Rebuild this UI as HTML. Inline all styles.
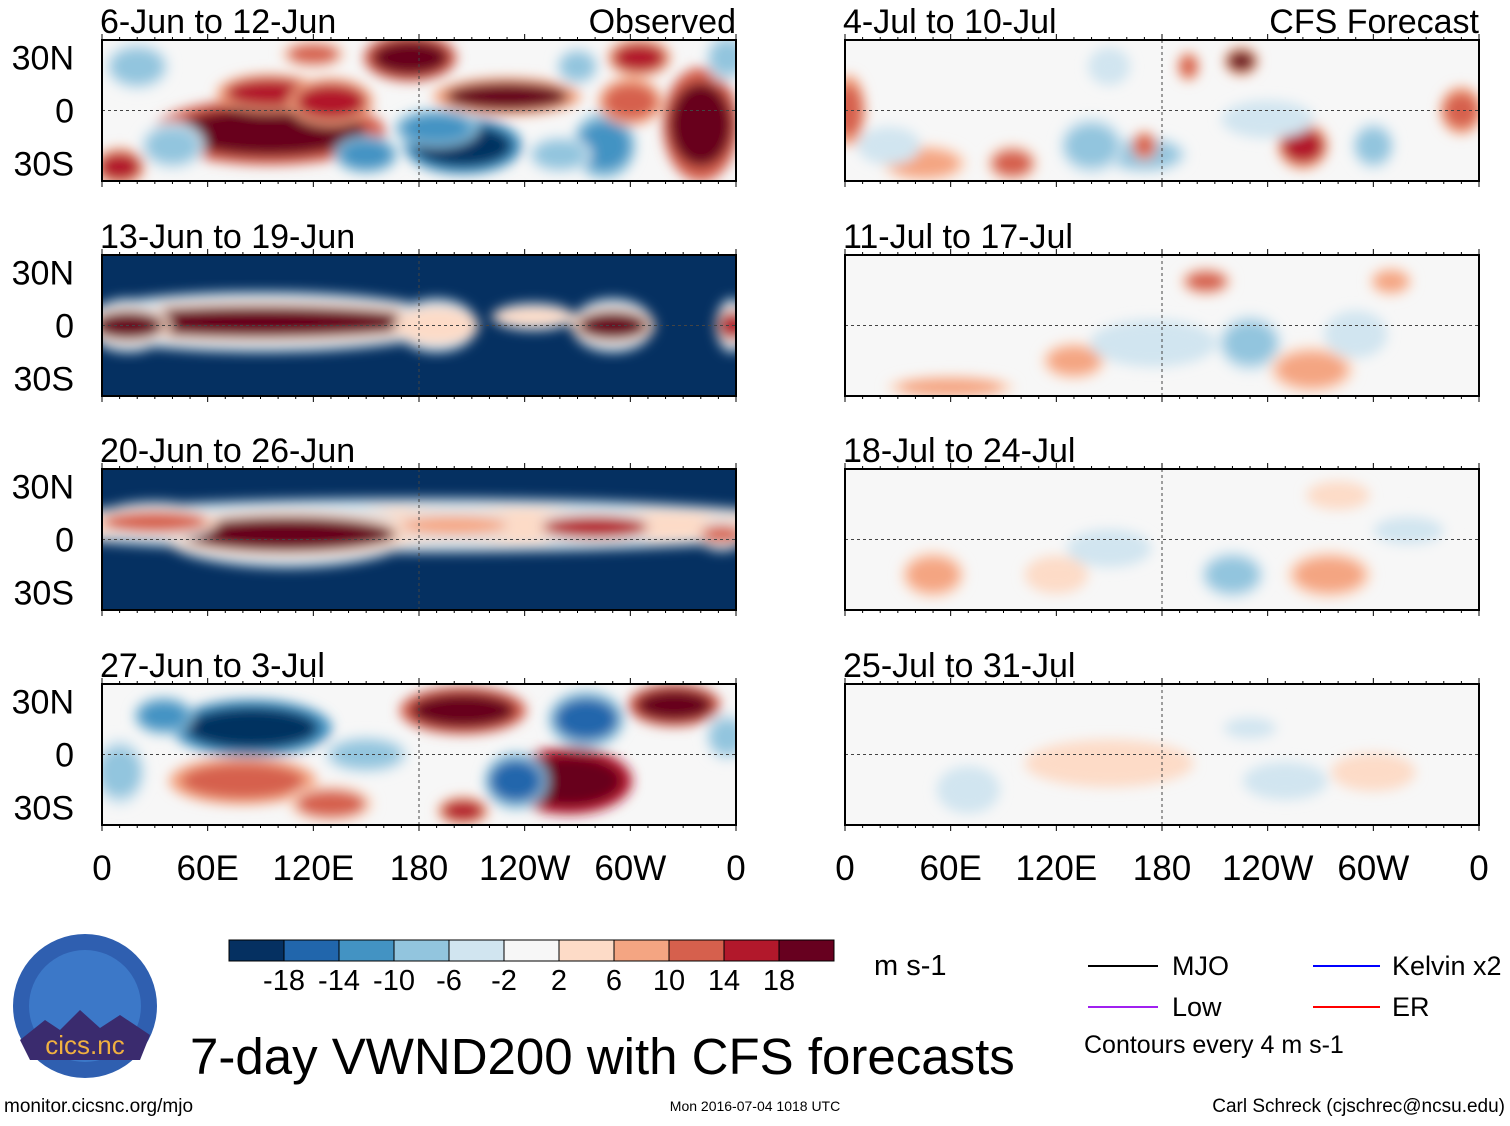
<!DOCTYPE html>
<html><head><meta charset="utf-8"><style>
body{margin:0;background:#fff;font-family:"Liberation Sans",sans-serif}
svg text{font-family:"Liberation Sans",sans-serif}
</style></head><body>
<svg id="fig" width="1510" height="1121" xmlns="http://www.w3.org/2000/svg">
<defs><filter id="bl" x="-20%" y="-20%" width="140%" height="140%"><feGaussianBlur stdDeviation="6"/></filter></defs>
<g id="panels"></g>
<g id="bottom"></g>
</svg>
<script>
const colors=["#053061","#2166ac","#4393c3","#92c5de","#d1e5f0","#f7f7f7","#fddbc7","#f4a582","#d6604d","#b2182b","#67001f"];
const cbarLabels=["-18","-14","-10","-6","-2","2","6","10","14","18"];
const xTickLabels=["0","60E","120E","180","120W","60W","0"];
const yTickLabels=["30N","0","30S"];
const yTickLats=[30,0,-30];
const panelTitles=["6-Jun to 12-Jun","13-Jun to 19-Jun","20-Jun to 26-Jun","27-Jun to 3-Jul","4-Jul to 10-Jul","11-Jul to 17-Jul","18-Jul to 24-Jul","25-Jul to 31-Jul"];
const panelBg=[0,-30,-30,0,0,0,0,0];
// blobs: [lon, lat, value, lonRadius, latRadius]
const blobs1=[[95,-12,24,55,14],[95,10,16,25,8],[130,5,14,20,10],[175,30,20,22,10],[340,-8,24,18,24],[230,8,18,35,8],[205,-20,-22,28,12],[190,-10,-12,20,8],[285,-20,-14,15,14],[150,-25,-12,15,8],[20,25,-10,15,10],[40,-20,-8,15,10],[300,5,12,15,10],[10,-32,14,12,8],[260,-25,-8,15,8],[120,32,10,15,6],[305,30,16,15,8],[270,25,-10,10,8],[355,30,-10,10,10]];
const blobs2=[[90,2,30,95,9],[15,0,18,20,8],[290,0,20,20,8],[358,0,14,8,8],[245,5,2,20,4],[190,0,4,20,8]];
const blobs3=[[180,8,2,200,8],[105,3,30,62,10],[30,10,10,30,6],[280,7,16,30,6],[352,3,12,12,5],[200,8,6,30,5]];
const blobs4=[[205,25,24,30,10],[265,-15,26,30,14],[85,15,-22,38,12],[235,-15,-18,15,12],[325,28,20,22,9],[275,20,-16,18,12],[80,-15,12,35,10],[205,-32,16,12,6],[150,0,-10,20,8],[10,-10,-10,12,14],[35,22,-12,14,8],[130,-28,10,20,8],[355,10,-8,10,10]];
const blobs5=[[170,-25,-8,20,8],[140,-20,-10,15,12],[170,-20,12,6,6],[260,-20,16,12,10],[95,-30,10,12,8],[225,28,18,8,6],[195,25,12,5,6],[240,-5,-5,22,8],[300,-20,-10,10,10],[2,0,12,8,15],[350,0,12,10,10],[45,-30,6,20,8],[150,25,-6,10,8],[25,-20,-4,15,8]];
const blobs6=[[230,-10,-8,15,12],[265,-25,8,20,10],[205,25,10,12,6],[60,-35,6,30,5],[130,-20,6,15,8],[175,-10,-4,30,10],[310,25,6,10,6],[290,-5,-4,15,10]];
const blobs7=[[220,-20,-8,15,10],[275,-20,8,20,10],[50,-20,6,15,10],[120,-20,4,15,8],[150,-5,-4,20,8],[320,5,-3,20,8],[280,25,5,15,6]];
const blobs8=[[70,-20,-4,15,10],[150,-5,4,40,10],[250,-15,-4,20,8],[300,-10,4,20,8],[230,15,-3,15,6]];
const allBlobs=[blobs1,blobs2,blobs3,blobs4,blobs5,blobs6,blobs7,blobs8];
const NS="http://www.w3.org/2000/svg";
function mk(t,a,p){const e=document.createElementNS(NS,t);for(const k in a)e.setAttribute(k,a[k]);p.appendChild(e);return e;}
function col(v){let i=Math.floor((v+22)/4);i=Math.max(0,Math.min(10,i));return colors[i];}
const W=634,H=141,colX=[102,845],rowY=[40,255,469,684];
const P=document.getElementById('panels');
for(let p=0;p<8;p++){
 const x0=colX[Math.floor(p/4)],y0=rowY[p%4];
 const xs=lon=>x0+lon*W/360, ys=lat=>y0+H/2-lat*(H/2)/40;
 const g=mk('g',{},P);
 
 
 const cp=mk('clipPath',{id:'c'+p},g);mk('rect',{x:x0,y:y0,width:W,height:H},cp);
 const inner=mk('g',{'clip-path':'url(#c'+p+')'},g);
 mk('rect',{x:x0,y:y0,width:W,height:H,fill:col(panelBg[p])},inner);
 const bg=mk('g',{filter:'url(#bl)'},inner);
 const dark=panelBg[p]<0;
 for(const b of allBlobs[p]){
  if(dark){
   const e0=mk('ellipse',{cx:xs(b[0]),cy:ys(b[1]),rx:b[3]*W/360*1.15,ry:b[4]*H/80*1.9,fill:col(-4)},bg);
   
   
  }
  const e1=mk('ellipse',{cx:xs(b[0]),cy:ys(b[1]),rx:b[3]*W/360*1.2,ry:b[4]*H/80*1.35,fill:col(dark?2:b[2]*0.55)},bg);
  
  
  const e=mk('ellipse',{cx:xs(b[0]),cy:ys(b[1]),rx:b[3]*W/360,ry:b[4]*H/80,fill:col(b[2])},bg);
  
  
 }
 mk('line',{x1:x0,x2:x0+W,y1:ys(0),y2:ys(0),stroke:'#444','stroke-dasharray':'3,3','stroke-width':1},inner);
 mk('line',{x1:xs(180),x2:xs(180),y1:y0,y2:y0+H,stroke:'#444','stroke-dasharray':'3,3','stroke-width':1},inner);
 mk('rect',{x:x0,y:y0,width:W,height:H,fill:'none',stroke:'#000','stroke-width':2},g);
 for(let l=0;l<=360;l+=10){const h=l%60==0?6:3;mk('line',{x1:xs(l),x2:xs(l),y1:y0,y2:y0-h,stroke:'#000'},g);mk('line',{x1:xs(l),x2:xs(l),y1:y0+H,y2:y0+H+h,stroke:'#000'},g);}
 const t=mk('text',{x:x0-2,y:y0-7,'font-size':34,fill:'#000'},g);t.textContent=panelTitles[p];
 
 
 if(p==0||p==4){const r=mk('text',{x:x0+W,y:y0-7,'font-size':34,'text-anchor':'end'},g);r.textContent=p==0?'Observed':'CFS Forecast';
  
  }
 if(p<4){yTickLats.forEach((la,i)=>{const yt=mk('text',{x:74,y:ys(la)+12,'font-size':34,'text-anchor':'end'},g);yt.textContent=yTickLabels[i];
  
  });}
 if(p%4==3){xTickLabels.forEach((s,i)=>{const xt=mk('text',{x:xs(i*60),y:880,'font-size':35,'text-anchor':'middle'},g);xt.textContent=s;
  
  });}
}
const B=document.getElementById('bottom');
colors.forEach((c,i)=>{const r=mk('rect',{x:229+i*55,y:940,width:55,height:21,fill:c,stroke:'#000','stroke-width':1},B);
 
 });
cbarLabels.forEach((s,i)=>{const t=mk('text',{x:284+i*55,y:990,'font-size':29,'text-anchor':'middle'},B);t.textContent=s;
 
 });
</script>
<svg style="position:absolute;left:0;top:0" width="1510" height="1121">
<text x="874" y="975" font-size="29">m s-1</text>
<g font-size="27">
<line x1="1088" y1="966" x2="1158" y2="966" stroke="#000" stroke-width="2"/><text x="1172" y="975">MJO</text>
<line x1="1088" y1="1007" x2="1158" y2="1007" stroke="#a020f0" stroke-width="2"/><text x="1172" y="1016">Low</text>
<line x1="1313" y1="966" x2="1380" y2="966" stroke="#0000ff" stroke-width="2"/><text x="1392" y="975">Kelvin x2</text>
<line x1="1313" y1="1007" x2="1380" y2="1007" stroke="#ff0000" stroke-width="2"/><text x="1392" y="1016">ER</text>
<text x="1084" y="1053" font-size="25">Contours every 4 m s-1</text>
</g>
<g>
<circle cx="85" cy="1006" r="72" fill="#2f5fb0"/>
<circle cx="85" cy="1006" r="56" fill="#3c78c8"/>
<path d="M20 1040 L45 1020 L60 1030 L80 1010 L100 1028 L120 1015 L150 1035 L140 1060 L30 1060Z" fill="#3a2b6e"/>
<text x="85" y="1054" font-size="26" fill="#f0b040" text-anchor="middle">cics.nc</text>
</g>
<text x="190" y="1074" font-size="51">7-day VWND200 with CFS forecasts</text>
<text x="4" y="1112" font-size="19">monitor.cicsnc.org/mjo</text>
<text x="755" y="1111" font-size="14" text-anchor="middle">Mon 2016-07-04 1018 UTC</text>
<text x="1505" y="1112" font-size="19" text-anchor="end">Carl Schreck (cjschrec@ncsu.edu)</text>
</svg>
</body></html>
